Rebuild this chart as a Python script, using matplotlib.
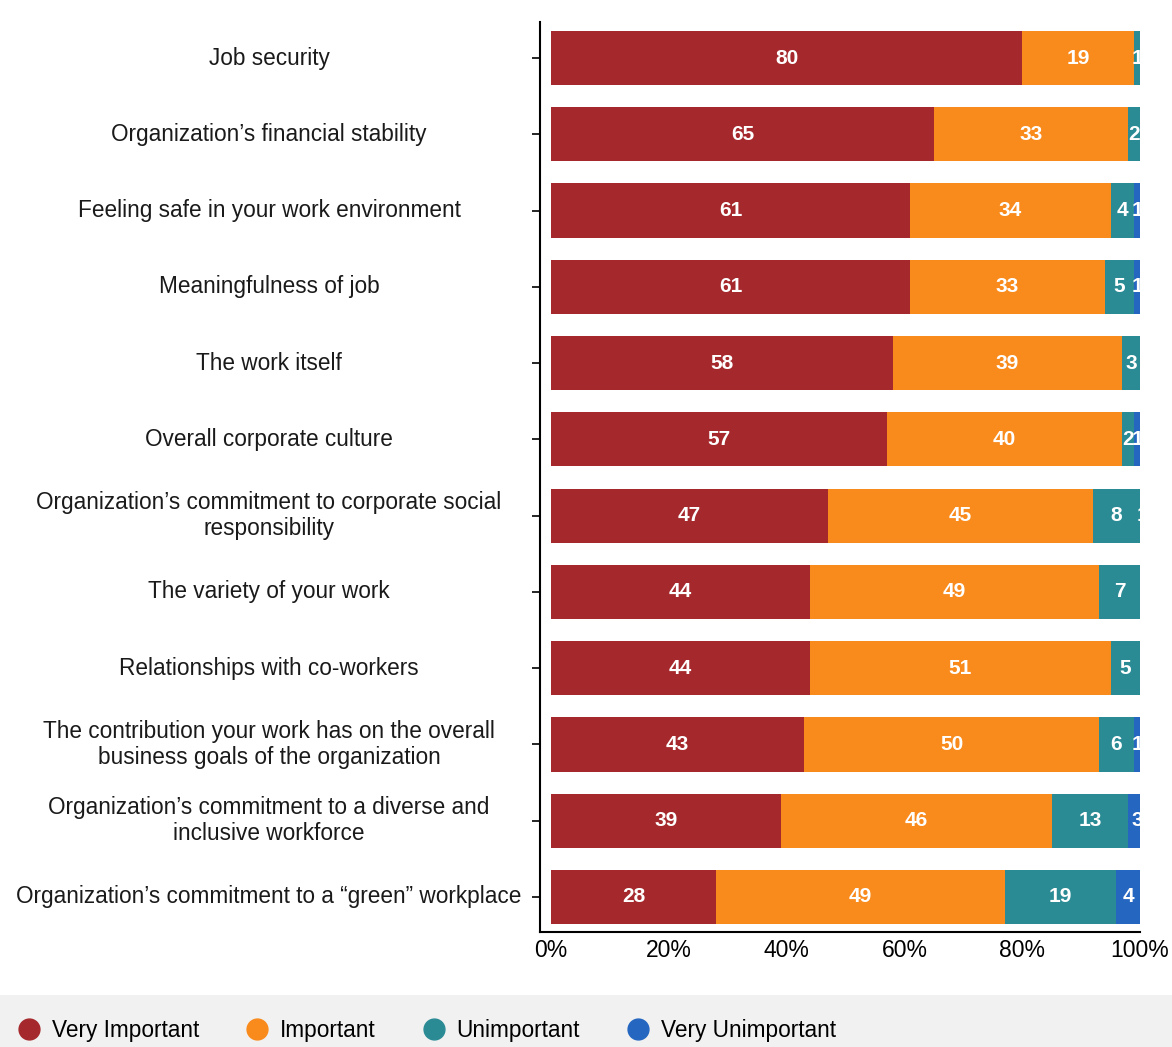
import numpy as np
import matplotlib.pyplot as plt
from matplotlib.lines import Line2D
from matplotlib.patches import Rectangle
from matplotlib.transforms import blended_transform_factory

plt.rcParams['font.family'] = ['Liberation Sans', 'DejaVu Sans']

categories = [
    "Job security",
    "Organization\u2019s financial stability",
    "Feeling safe in your work environment",
    "Meaningfulness of job",
    "The work itself",
    "Overall corporate culture",
    "Organization\u2019s commitment to corporate social\nresponsibility",
    "The variety of your work",
    "Relationships with co-workers",
    "The contribution your work has on the overall\nbusiness goals of the organization",
    "Organization\u2019s commitment to a diverse and\ninclusive workforce",
    "Organization\u2019s commitment to a \u201cgreen\u201d workplace",
]
very_important = [80, 65, 61, 61, 58, 57, 47, 44, 44, 43, 39, 28]
important = [19, 33, 34, 33, 39, 40, 45, 49, 51, 50, 46, 49]
unimportant = [1, 2, 4, 5, 3, 2, 8, 7, 5, 6, 13, 19]
very_unimportant = [0, 0, 1, 1, 0, 1, 1, 0, 0, 1, 3, 4]

series = [
    ("Very Important", very_important, "#a5282c"),
    ("Important", important, "#f98a1c"),
    ("Unimportant", unimportant, "#2a8b95"),
    ("Very Unimportant", very_unimportant, "#2466c0"),
]
x_ticks = [0, 20, 40, 60, 80, 100]
x_labels = ["0%", "20%", "40%", "60%", "80%", "100%"]

fig = plt.figure(figsize=(11.72, 10.47), dpi=100)
fig.patch.set_facecolor("white")
# grey band behind the legend
fig.add_artist(Rectangle((0, 0), 1, 0.05, transform=fig.transFigure,
                         facecolor="#f1f1f1", edgecolor="none", zorder=0))

ax = fig.add_axes([0.4608, 0.1098, 0.5119, 0.869])
y = np.arange(len(categories))
left = np.zeros(len(categories))
for name, vals, color in series:
    vals = np.array(vals, dtype=float)
    ax.barh(y, vals, left=left, height=0.71, color=color, label=name)
    for yi, l, v in zip(y, left, vals):
        if v > 0:
            ax.text(l + v / 2, yi, f"{int(v)}", ha="center", va="center",
                    color="white", fontsize=15, fontweight="bold")
    left += vals

ax.set_xlim(-1.87, 100)
ax.set_ylim(len(categories) - 0.54, -0.47)
ax.set_xticks(x_ticks)
ax.set_xticklabels(x_labels, fontsize=16.5)
ax.tick_params(axis="x", length=0, pad=5)
ax.set_yticks(y)
ax.set_yticklabels([])
ax.tick_params(axis="y", length=6, width=1.2)
for s in ["top", "right"]:
    ax.spines[s].set_visible(False)
for s in ["left", "bottom"]:
    ax.spines[s].set_linewidth(1.5)

# category labels centred in the left margin
trans = blended_transform_factory(fig.transFigure, ax.transData)
for yi, cat in zip(y, categories):
    ax.text(269 / 1172, yi, cat, transform=trans, ha="center", va="center",
            multialignment="center", fontsize=16.3, color="#1a1a1a",
            linespacing=1.2)

handles = [Line2D([], [], marker="o", linestyle="none", markersize=15,
                  markerfacecolor=c, markeredgecolor=c) for _, _, c in series]
fig.legend(handles, [n for n, _, _ in series], loc="center left",
           bbox_to_anchor=(-0.002, 0.016), ncol=4, frameon=False, fontsize=16.3,
           handletextpad=0.5, columnspacing=2.07, handlelength=1.0)

fig.savefig("out.png", dpi=100)
